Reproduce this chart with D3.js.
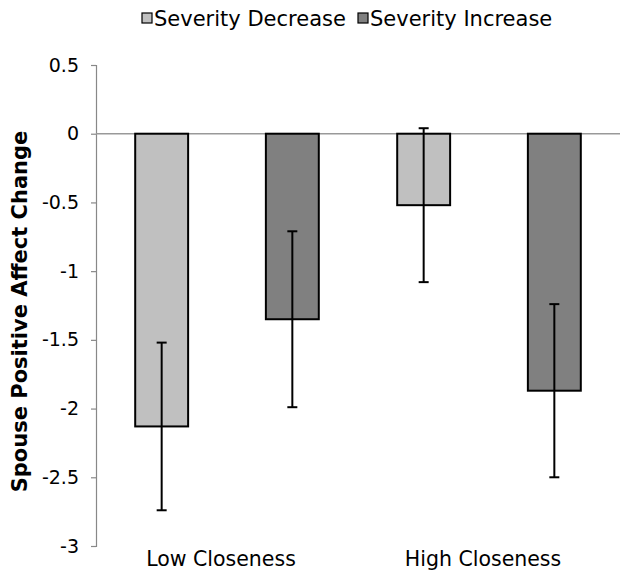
<!DOCTYPE html>
<html>
<head>
<meta charset="utf-8">
<script src="https://cdn.jsdelivr.net/npm/d3@7"></script>
<style>
  body { margin: 0; background: #fff; }
  text { font-family: "DejaVu Sans", Verdana, sans-serif; fill: #000; }
</style>
</head>
<body>
<svg id="chart"></svg>
<script>
const width = 629;
const height = 581;

const groups = ["Low Closeness", "High Closeness"];
const seriesNames = ["Severity Decrease", "Severity Increase"];
const seriesColors = ["#c0c0c0", "#808080"];
const decreaseValues = [-2.13, -0.52];
const increaseValues = [-1.35, -1.87];
const decreaseErrors = [0.61, 0.56];
const increaseErrors = [0.64, 0.63];
const yTicks = [0.5, 0, -0.5, -1, -1.5, -2, -2.5, -3];

const margin = { top: 65, right: 9, bottom: 35, left: 96 };

const svg = d3.select("#chart")
    .attr("width", width)
    .attr("height", height);

const y = d3.scaleLinear()
    .domain([-3, 0.5])
    .range([height - margin.bottom, margin.top]);

const x0 = d3.scaleBand()
    .domain(groups)
    .range([margin.left, width - margin.right])
    .paddingInner(0)
    .paddingOuter(0);

const x1 = d3.scaleBand()
    .domain(seriesNames)
    .range([0, x0.bandwidth()])
    .paddingInner(0.595)
    .paddingOuter(0.3);

const rows = groups.flatMap((g, i) => [
    { group: g, series: seriesNames[0], value: decreaseValues[i], err: decreaseErrors[i], color: seriesColors[0] },
    { group: g, series: seriesNames[1], value: increaseValues[i], err: increaseErrors[i], color: seriesColors[1] }
]);

// y axis, plain hyphen for negatives like the original
const yAxis = d3.axisLeft(y)
    .tickValues(yTicks)
    .tickFormat(d => String(d))
    .tickSize(5)
    .tickPadding(12);

const yg = svg.append("g")
    .attr("transform", `translate(${margin.left},0)`)
    .call(yAxis);
yg.select(".domain").attr("stroke", "#888").attr("stroke-width", 1.2);
yg.selectAll(".tick line").attr("stroke", "#888").attr("stroke-width", 1.2);
yg.selectAll(".tick text")
    .style("font-size", "19px")
    .attr("fill", "#000");

// zero line
svg.append("line")
    .attr("x1", margin.left)
    .attr("x2", width - margin.right)
    .attr("y1", y(0))
    .attr("y2", y(0))
    .attr("stroke", "#999")
    .attr("stroke-width", 1.5);

// bars
svg.append("g")
    .selectAll("rect")
    .data(rows)
    .enter().append("rect")
    .attr("x", d => x0(d.group) + x1(d.series))
    .attr("y", y(0))
    .attr("width", x1.bandwidth())
    .attr("height", d => y(d.value) - y(0))
    .attr("fill", d => d.color)
    .attr("stroke", "#000")
    .attr("stroke-width", 2);

// error bars
const errG = svg.append("g")
    .selectAll("g")
    .data(rows)
    .enter().append("g")
    .attr("transform", d => `translate(${x0(d.group) + x1(d.series) + x1.bandwidth() / 2},0)`);

errG.append("line")
    .attr("y1", d => y(d.value + d.err))
    .attr("y2", d => y(d.value - d.err))
    .attr("stroke", "#000")
    .attr("stroke-width", 2);

errG.selectAll(".cap")
    .data(d => [d.value + d.err, d.value - d.err])
    .enter().append("line")
    .attr("class", "cap")
    .attr("x1", -5)
    .attr("x2", 5)
    .attr("y1", v => y(v))
    .attr("y2", v => y(v))
    .attr("stroke", "#000")
    .attr("stroke-width", 2);

// category labels
svg.append("g")
    .selectAll("text")
    .data(groups)
    .enter().append("text")
    .attr("x", d => x0(d) + x0.bandwidth() / 2 - 6)
    .attr("y", 566)
    .attr("text-anchor", "middle")
    .style("font-size", "20.5px")
    .text(d => d);

// y title
svg.append("text")
    .attr("transform", `translate(27,${(margin.top + height - margin.bottom) / 2 + 6}) rotate(-90)`)
    .attr("text-anchor", "middle")
    .style("font-size", "21px")
    .style("font-weight", "bold")
    .text("Spouse Positive Affect Change");

// legend
const legendX = [142, 358];
const legend = svg.append("g")
    .selectAll("g")
    .data(seriesNames)
    .enter().append("g")
    .attr("transform", (d, i) => `translate(${legendX[i]},12)`);

legend.append("rect")
    .attr("width", 10)
    .attr("height", 10)
    .attr("y", 1)
    .attr("fill", (d, i) => seriesColors[i])
    .attr("stroke", "#000")
    .attr("stroke-width", 1.2);

legend.append("text")
    .attr("x", 12)
    .attr("y", 14)
    .style("font-size", "21px")
    .text(d => d);
</script>
</body>
</html>
